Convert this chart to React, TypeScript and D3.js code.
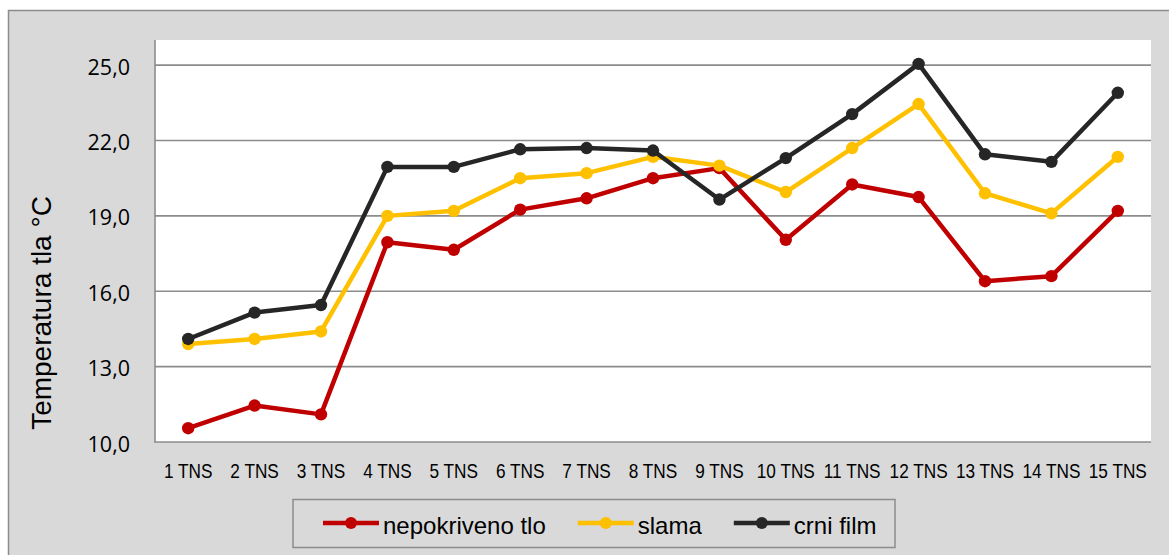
import { useEffect, useRef } from "react";
import * as d3 from "d3";

const categories = [
  "1 TNS", "2 TNS", "3 TNS", "4 TNS", "5 TNS", "6 TNS", "7 TNS", "8 TNS",
  "9 TNS", "10 TNS", "11 TNS", "12 TNS", "13 TNS", "14 TNS", "15 TNS",
];
const nepokriveno = [10.55, 11.45, 11.1, 17.95, 17.65, 19.25, 19.7, 20.5, 20.9, 18.05, 20.25, 19.75, 16.4, 16.6, 19.2];
const slama = [13.9, 14.1, 14.4, 19.0, 19.2, 20.5, 20.7, 21.35, 21.0, 19.95, 21.7, 23.45, 19.9, 19.1, 21.35];
const crniFilm = [14.1, 15.15, 15.45, 20.95, 20.95, 21.65, 21.7, 21.6, 19.65, 21.3, 23.05, 25.05, 21.45, 21.15, 23.9];

const seriesNames = ["nepokriveno tlo", "slama", "crni film"];
const seriesColors = ["#c00000", "#ffc000", "#262626"];
const yTicks = [10, 13, 16, 19, 22, 25];
const yTitle = "Temperatura tla °C";

const W = 1169;
const H = 555;
const plot = { left: 155, right: 1151, top: 40, bottom: 442 };

const fmt = d3.formatLocale({ decimal: ",", thousands: ".", grouping: [3], currency: ["", ""] }).format(".1f");

export default function App() {
  const ref = useRef<SVGSVGElement>(null);

  useEffect(() => {
    const svg = d3.select(ref.current);
    svg.selectAll("*").remove();

    const x = d3.scaleBand().domain(categories).range([plot.left, plot.right]);
    const y = d3.scaleLinear().domain([10, 26]).range([plot.bottom, plot.top]);
    const cx = (c: string) => (x(c) as number) + x.bandwidth() / 2;

    // chart background + frame
    svg.append("rect")
      .attr("x", 8.5).attr("y", 10.5)
      .attr("width", W + 10).attr("height", H + 10)
      .attr("fill", "#d9d9d9")
      .attr("stroke", "#8c8c8c")
      .attr("stroke-width", 1.5);

    // plot area
    svg.append("rect")
      .attr("x", plot.left).attr("y", plot.top)
      .attr("width", plot.right - plot.left).attr("height", plot.bottom - plot.top)
      .attr("fill", "#ffffff");

    // gridlines
    svg.append("g")
      .selectAll("line")
      .data(yTicks)
      .join("line")
      .attr("x1", plot.left).attr("x2", plot.right)
      .attr("y1", (d) => y(d)).attr("y2", (d) => y(d))
      .attr("stroke", "#8c8c8c")
      .attr("stroke-width", 1.6);

    // left axis line
    svg.append("line")
      .attr("x1", plot.left).attr("x2", plot.left)
      .attr("y1", plot.top).attr("y2", plot.bottom + 0.8)
      .attr("stroke", "#8c8c8c")
      .attr("stroke-width", 1.6);

    // y tick labels
    svg.append("g")
      .selectAll("text")
      .data(yTicks)
      .join("text")
      .attr("x", 130)
      .attr("y", (d) => y(d) + 1)
      .attr("text-anchor", "end")
      .attr("dominant-baseline", "central")
      .attr("font-family", "'Open Sans', sans-serif")
      .attr("font-size", 21.5)
      .attr("fill", "#000")
      .text((d) => fmt(d));

    // x tick labels (narrow)
    svg.append("g")
      .selectAll("text")
      .data(categories)
      .join("text")
      .attr("transform", (d) => `translate(${cx(d)},478) scale(0.82,1)`)
      .attr("text-anchor", "middle")
      .attr("font-family", "'Liberation Sans', Arial, sans-serif")
      .attr("font-size", 21)
      .attr("fill", "#000")
      .text((d) => d);

    // y title
    svg.append("text")
      .attr("transform", "translate(51,313) rotate(-90)")
      .attr("text-anchor", "middle")
      .attr("font-family", "'Liberation Sans', Arial, sans-serif")
      .attr("font-size", 28)
      .attr("fill", "#000")
      .text(yTitle);

    // series
    const series = [nepokriveno, slama, crniFilm];
    const line = d3.line<number>()
      .x((_, i) => cx(categories[i]))
      .y((d) => y(d));

    series.forEach((vals, si) => {
      const g = svg.append("g");
      g.append("path")
        .attr("d", line(vals))
        .attr("fill", "none")
        .attr("stroke", seriesColors[si])
        .attr("stroke-width", 4.5)
        .attr("stroke-linejoin", "round");
      g.selectAll("circle")
        .data(vals)
        .join("circle")
        .attr("cx", (_, i) => cx(categories[i]))
        .attr("cy", (d) => y(d))
        .attr("r", 6.2)
        .attr("fill", seriesColors[si]);
    });

    // legend
    const legend = svg.append("g");
    legend.append("rect")
      .attr("x", 293).attr("y", 499.5)
      .attr("width", 602).attr("height", 48)
      .attr("fill", "#d9d9d9")
      .attr("stroke", "#8c8c8c")
      .attr("stroke-width", 1.5);

    let lx = 323;
    const ly = 523;
    seriesNames.forEach((name, si) => {
      legend.append("line")
        .attr("x1", lx).attr("x2", lx + 56)
        .attr("y1", ly).attr("y2", ly)
        .attr("stroke", seriesColors[si])
        .attr("stroke-width", 4.5);
      legend.append("circle")
        .attr("cx", lx + 28).attr("cy", ly)
        .attr("r", 6)
        .attr("fill", seriesColors[si]);
      const t = legend.append("text")
        .attr("x", lx + 60)
        .attr("y", 534)
        .attr("font-family", "'Liberation Sans', Arial, sans-serif")
        .attr("font-size", 24)
        .attr("fill", "#000")
        .text(name);
      const w = (t.node() as SVGTextElement).getComputedTextLength();
      lx = lx + 60 + w + 32;
    });
  }, []);

  return (
    <div style={{ position: "absolute", left: 0, top: 0 }}>
      <svg ref={ref} width={W} height={H} style={{ display: "block" }} />
    </div>
  );
}
